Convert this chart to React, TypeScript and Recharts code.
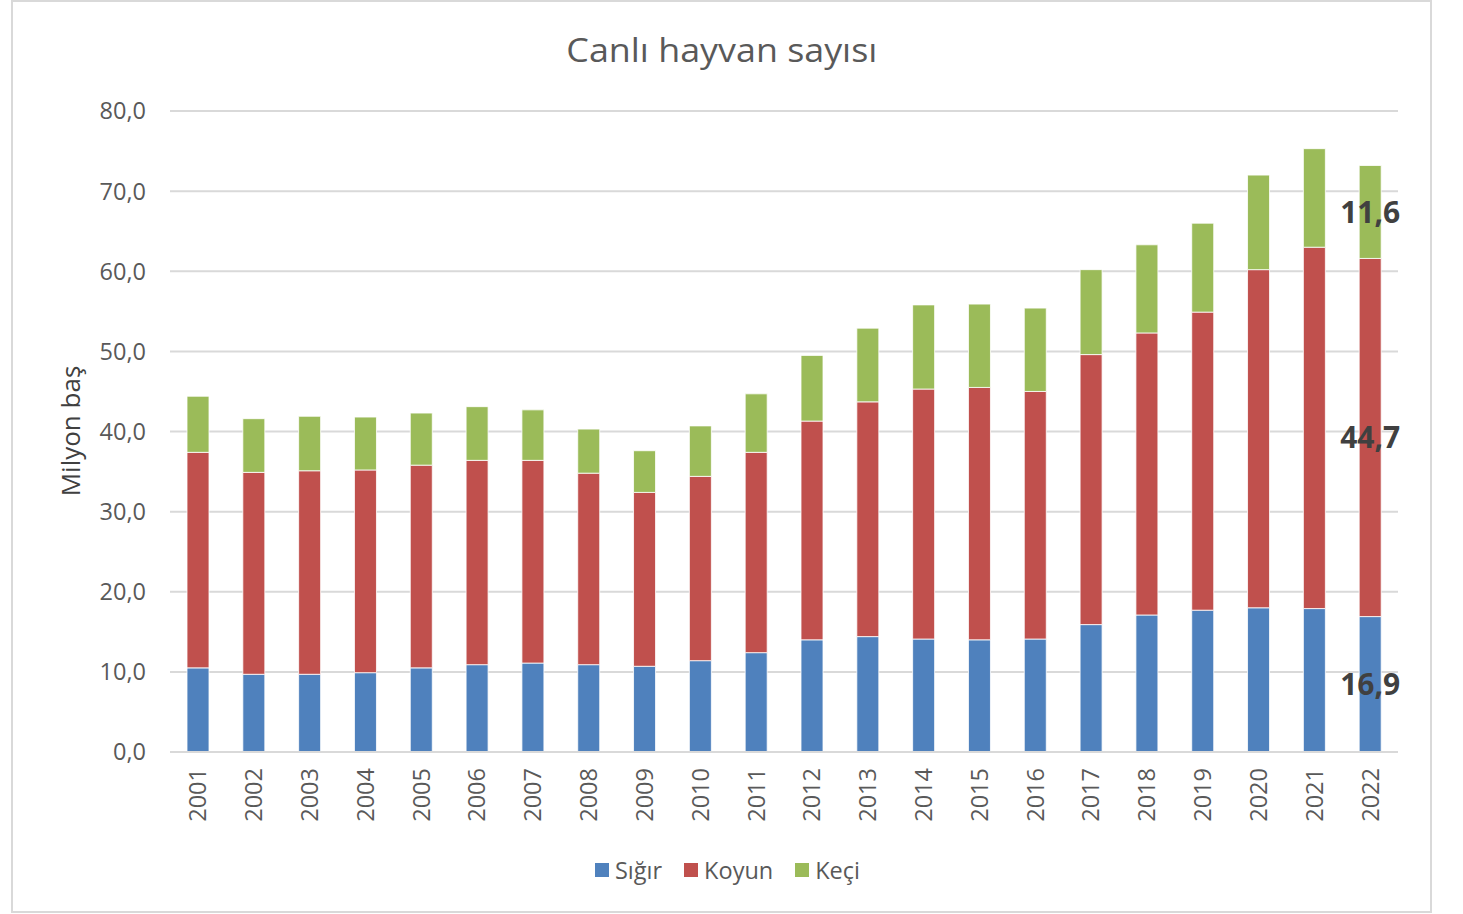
import { BarChart, Bar, XAxis, YAxis, CartesianGrid, LabelList } from 'recharts'

const years = ['2001', '2002', '2003', '2004', '2005', '2006', '2007', '2008', '2009', '2010', '2011', '2012', '2013', '2014', '2015', '2016', '2017', '2018', '2019', '2020', '2021', '2022']
const sigir = [10.5, 9.7, 9.7, 9.9, 10.5, 10.9, 11.1, 10.9, 10.7, 11.4, 12.4, 14.0, 14.4, 14.1, 14.0, 14.1, 15.9, 17.1, 17.7, 18.0, 17.9, 16.9]
const koyun = [26.9, 25.2, 25.4, 25.3, 25.3, 25.5, 25.3, 23.9, 21.7, 23.0, 25.0, 27.3, 29.3, 31.2, 31.5, 30.9, 33.7, 35.2, 37.2, 42.2, 45.1, 44.7]
const keci = [7.0, 6.7, 6.8, 6.6, 6.5, 6.7, 6.3, 5.5, 5.2, 6.3, 7.3, 8.2, 9.2, 10.5, 10.4, 10.4, 10.6, 11.0, 11.1, 11.8, 12.3, 11.6]
const yTicks = [0, 10, 20, 30, 40, 50, 60, 70, 80]

const series = [
  { key: 'sigir', name: 'Sığır', color: '#4f81bd' },
  { key: 'koyun', name: 'Koyun', color: '#c0504d' },
  { key: 'keci', name: 'Keçi', color: '#9bbb59' },
]

const data = years.map((y, i) => ({ year: y, sigir: sigir[i], koyun: koyun[i], keci: keci[i] }))

const FONT = '"Open Sans", sans-serif'
const fmt = (v: number) => v.toFixed(1).replace('.', ',')

const XTick = ({ x, y, payload }: any) => (
  <text x={x} y={y} dy="0.36em" transform={`rotate(-90, ${x}, ${y})`} textAnchor="end"
    fill="#595959" fontSize={23.5} fontFamily={FONT}>
    {payload.value}
  </text>
)

const YTick = ({ x, y, payload }: any) => (
  <text x={x} y={y} dy="0.36em" textAnchor="end" fill="#595959" fontSize={23.5} fontFamily={FONT}>
    {fmt(payload.value)}
  </text>
)

const lastLabel = (props: any) => {
  const { x, y, width, height, value, index } = props
  if (index !== data.length - 1) return null
  return (
    <text x={x + width / 2} y={y + height / 2} dy="0.36em" textAnchor="middle"
      fill="#404040" fontSize={30} fontWeight="bold" fontFamily={FONT}>
      {fmt(value)}
    </text>
  )
}

export default function App() {
  return (
    <div style={{ position: 'absolute', left: 0, top: 0, width: 1463, height: 914, background: '#fff', fontFamily: FONT }}>
      <div style={{ position: 'absolute', left: 11, top: 0, width: 1421, height: 913, border: '2px solid #d9d9d9', boxSizing: 'border-box' }} />
      <div style={{ position: 'absolute', left: 0, width: 1443, top: 30, textAlign: 'center', fontSize: 32, lineHeight: '40px', color: '#595959' }}>
        <span style={{ display: 'inline-block', transform: 'scaleX(1.12)' }}>Canlı hayvan sayısı</span>
      </div>
      <div style={{ position: 'absolute', left: 70, top: 431, transform: 'translate(-50%, -50%) rotate(-90deg)', fontSize: 26, color: '#404040', whiteSpace: 'nowrap' }}>
        Milyon baş
      </div>
      <div style={{ position: 'absolute', left: 0, top: 0 }}>
        <BarChart width={1463} height={914} data={data} margin={{ top: 111, right: 65, bottom: 82, left: 100 }}>
          <CartesianGrid vertical={false} stroke="#d9d9d9" strokeWidth={2} />
          <XAxis dataKey="year" height={80} tickSize={0} tickMargin={16} tick={<XTick />} interval={0}
            axisLine={{ stroke: '#d9d9d9', strokeWidth: 2 }} />
          <YAxis width={70} domain={[0, 80]} ticks={yTicks} tickSize={0} tickMargin={24} tick={<YTick />}
            axisLine={false} />
          {series.map(s => (
            <Bar key={s.key} dataKey={s.key} name={s.name} stackId="a" fill={s.color} barSize={22}
              stroke="#ffffff" strokeWidth={0.8} isAnimationActive={false}>
              <LabelList dataKey={s.key} content={lastLabel} />
            </Bar>
          ))}
        </BarChart>
      </div>
      <div style={{ position: 'absolute', top: 854, left: 0, width: 1455, display: 'flex', justifyContent: 'center', fontSize: 23.5, color: '#595959' }}>
        {series.map(s => (
          <div key={s.key} style={{ display: 'flex', alignItems: 'center', margin: '0 11px' }}>
            <span style={{ display: 'inline-block', width: 14, height: 14, background: s.color, marginRight: 6 }} />
            <span>{s.name}</span>
          </div>
        ))}
      </div>
    </div>
  )
}
